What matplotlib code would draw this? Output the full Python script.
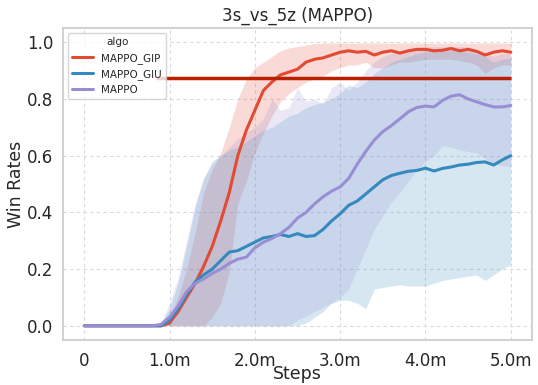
import numpy as np
import matplotlib
matplotlib.use("Agg")
import matplotlib.pyplot as plt
import seaborn as sns

# steps in millions, sampled every 0.1m
steps = np.linspace(0, 5, 51)

gip_mean = [0, 0, 0, 0, 0, 0, 0, 0, 0, 0,
            0.01, 0.05, 0.10, 0.15, 0.21, 0.28, 0.37, 0.47, 0.60, 0.69,
            0.76, 0.83, 0.86, 0.885, 0.895, 0.905, 0.93, 0.94, 0.945, 0.955,
            0.965, 0.97, 0.965, 0.968, 0.955, 0.965, 0.97, 0.962, 0.97, 0.975,
            0.975, 0.97, 0.972, 0.978, 0.97, 0.975, 0.968, 0.955, 0.965, 0.97,
            0.965]
gip_low = [0, 0, 0, 0, 0, 0, 0, 0, 0, 0,
           0, 0, 0, 0, 0, 0.03, 0.08, 0.19, 0.43, 0.51,
           0.61, 0.68, 0.74, 0.79, 0.82, 0.84, 0.86, 0.87, 0.88, 0.90,
           0.91, 0.92, 0.92, 0.93, 0.91, 0.91, 0.92, 0.93, 0.93, 0.935,
           0.94, 0.94, 0.94, 0.94, 0.935, 0.93, 0.92, 0.89, 0.91, 0.92,
           0.92]
gip_high = [0, 0, 0, 0, 0, 0, 0, 0, 0, 0.005,
            0.03, 0.10, 0.20, 0.33, 0.47, 0.55, 0.61, 0.70, 0.80, 0.87,
            0.91, 0.93, 0.95, 0.97, 0.98, 0.985, 0.99, 0.995, 0.997, 0.997,
            0.997, 0.997, 0.997, 0.997, 0.997, 0.997, 0.997, 0.997, 0.997, 0.997,
            0.997, 0.997, 0.997, 0.997, 0.997, 0.997, 0.997, 0.997, 0.997, 0.997,
            0.997]

giu_mean = [0, 0, 0, 0, 0, 0, 0, 0, 0, 0,
            0.02, 0.06, 0.11, 0.155, 0.18, 0.20, 0.23, 0.26, 0.265, 0.28,
            0.295, 0.31, 0.315, 0.322, 0.315, 0.325, 0.315, 0.318, 0.34, 0.37,
            0.395, 0.425, 0.44, 0.465, 0.49, 0.515, 0.53, 0.538, 0.545, 0.548,
            0.556, 0.546, 0.555, 0.56, 0.567, 0.57, 0.576, 0.578, 0.567, 0.585,
            0.60]
giu_low = [0, 0, 0, 0, 0, 0, 0, 0, 0, 0,
           0, 0, 0, 0, 0, 0, 0, 0, 0, 0,
           0, 0, 0, 0, 0, 0, 0.01, 0.03, 0.05, 0.08,
           0.09, 0.09, 0.08, 0.06, 0.13, 0.135, 0.14, 0.145, 0.14, 0.14,
           0.14, 0.15, 0.16, 0.165, 0.17, 0.175, 0.18, 0.16, 0.18, 0.20,
           0.215]
giu_high = [0, 0, 0, 0, 0, 0, 0, 0, 0, 0.01,
            0.06, 0.15, 0.28, 0.42, 0.52, 0.58, 0.60, 0.62, 0.63, 0.65,
            0.67, 0.69, 0.70, 0.72, 0.74, 0.75, 0.77, 0.78, 0.79, 0.80,
            0.82, 0.85, 0.84, 0.86, 0.89, 0.91, 0.93, 0.94, 0.95, 0.96,
            0.965, 0.97, 0.97, 0.97, 0.97, 0.965, 0.96, 0.95, 0.93, 0.94,
            0.945]

mappo_mean = [0, 0, 0, 0, 0, 0, 0, 0, 0, 0.005,
              0.03, 0.07, 0.12, 0.15, 0.165, 0.185, 0.20, 0.22, 0.235, 0.242,
              0.275, 0.295, 0.308, 0.325, 0.347, 0.38, 0.40, 0.43, 0.455, 0.475,
              0.49, 0.52, 0.57, 0.615, 0.655, 0.685, 0.706, 0.73, 0.755, 0.77,
              0.775, 0.772, 0.795, 0.81, 0.815, 0.80, 0.79, 0.78, 0.772, 0.772,
              0.777]
mappo_low = [0, 0, 0, 0, 0, 0, 0, 0, 0, 0,
             0, 0, 0, 0, 0, 0, 0, 0, 0, 0,
             0, 0, 0, 0, 0, 0.02, 0.035, 0.05, 0.065, 0.08,
             0.10, 0.13, 0.20, 0.27, 0.34, 0.39, 0.435, 0.47, 0.51, 0.55,
             0.58, 0.60, 0.635, 0.63, 0.62, 0.615, 0.61, 0.59, 0.57, 0.565,
             0.56]
mappo_high = [0, 0, 0, 0, 0, 0, 0, 0, 0, 0.01,
              0.08, 0.17, 0.30, 0.43, 0.52, 0.57, 0.60, 0.63, 0.66, 0.68,
              0.70, 0.73, 0.80, 0.76, 0.77, 0.84, 0.79, 0.80, 0.78, 0.84,
              0.86, 0.83, 0.86, 0.90, 0.93, 0.95, 0.96, 0.97, 0.975, 0.98,
              0.985, 0.985, 0.985, 0.985, 0.985, 0.985, 0.97, 0.96, 0.95, 0.96,
              0.96]

target = 0.875
names = ["MAPPO_GIP", "MAPPO_GIU", "MAPPO"]
colors = ["#E24A33", "#348ABD", "#988ED5"]

sns.set_theme(style="whitegrid")
plt.rcParams["font.family"] = ["DejaVu Sans"]

fig = plt.figure(figsize=(5.38, 3.85), dpi=100)
ax = fig.add_axes([0.117, 0.117, 0.872, 0.81])

series = [(gip_mean, gip_low, gip_high),
          (giu_mean, giu_low, giu_high),
          (mappo_mean, mappo_low, mappo_high)]
for (m, lo, hi), name, c in zip(series, names, colors):
    ax.fill_between(steps, lo, hi, color=c, alpha=0.2, linewidth=0)
    ax.plot(steps, m, color=c, lw=2.2, label=name)

ax.hlines(target, 0.84, 5.0, color="#B82000", lw=2.5)

ax.set_xticks([0, 1, 2, 3, 4, 5])
ax.set_xticklabels(["0", "1.0m", "2.0m", "3.0m", "4.0m", "5.0m"])
ax.set_xlim(-0.25, 5.25)
ax.set_ylim(-0.05, 1.05)
ax.tick_params(labelsize=12)
ax.tick_params(axis="x", pad=3)
ax.tick_params(axis="y", pad=1)
ax.grid(True, color="#d9d9d9", linestyle=(0, (3, 3)), lw=0.8)
for s in ax.spines.values():
    s.set_edgecolor("#cccccc")

ax.set_xlabel("Steps", fontsize=12.5, labelpad=-4)
ax.set_ylabel("Win Rates", fontsize=12.5, labelpad=1)
ax.set_title("3s_vs_5z (MAPPO)", fontsize=12, pad=5)
leg = ax.legend(title="algo", loc="upper left", fontsize=7.5, title_fontsize=7.5)

fig.savefig("out.png", dpi=100)
